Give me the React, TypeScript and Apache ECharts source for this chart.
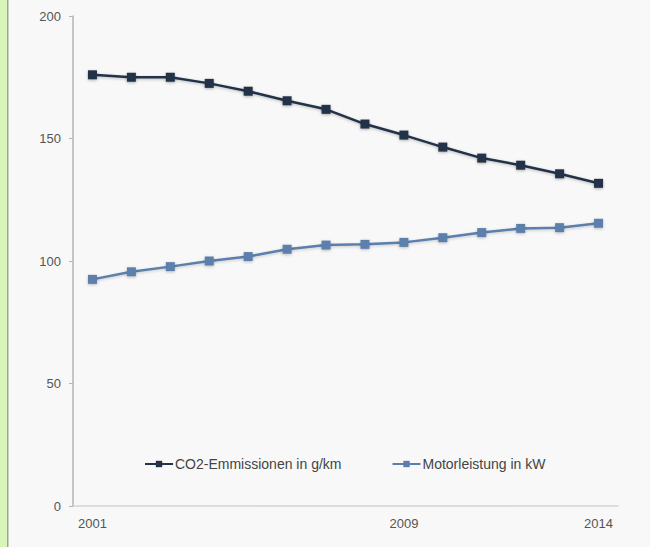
import React, { useEffect, useRef } from "react";
import * as echarts from "echarts";

const years = ["2001", "2002", "2003", "2004", "2005", "2006", "2007", "2008", "2009", "2010", "2011", "2012", "2013", "2014"];
const co2 = [176, 175, 175, 172.5, 169.3, 165.4, 161.9, 155.9, 151.4, 146.5, 142, 139.1, 135.6, 131.7];
const power = [92.5, 95.6, 97.7, 100, 101.8, 104.8, 106.5, 106.8, 107.6, 109.5, 111.6, 113.3, 113.6, 115.4];
const shownYears = ["2001", "2009", "2014"];
const seriesNames = ["CO2-Emmissionen in g/km", "Motorleistung in kW"];

export default function App() {
  const ref = useRef<HTMLDivElement>(null);
  useEffect(() => {
    document.body.style.margin = "0";
    const chart = echarts.init(ref.current!, null, { renderer: "svg" });
    const font = "Liberation Sans, Arial, sans-serif";
    chart.setOption({
      animation: false,
      backgroundColor: "#f8f8f8",
      textStyle: { fontFamily: font },
      graphic: [
        { type: "rect", left: 0, top: 0, shape: { width: 7, height: 547 }, style: { fill: "#d9f5b9" } },
        { type: "rect", left: 7, top: 0, shape: { width: 1.5, height: 547 }, style: { fill: "#9aa59a" } },
      ],
      grid: { left: 73, right: 32, top: 16, bottom: 41 },
      legend: {
        orient: "horizontal",
        top: 452,
        left: 139,
        itemGap: 50,
        itemWidth: 28,
        itemHeight: 8,
        textStyle: { fontSize: 14, color: "#444", fontFamily: font, padding: [0, 0, 0, -3] },
        data: seriesNames,
      },
      xAxis: {
        type: "category",
        data: years,
        boundaryGap: true,
        axisLine: { lineStyle: { color: "#d3d3d3", width: 1.5 } },
        axisTick: { show: false },
        axisLabel: {
          interval: (i: number, v: string) => shownYears.includes(v),
          color: "#555",
          fontSize: 13,
          margin: 11,
          fontFamily: font,
        },
        splitLine: { show: false },
      },
      yAxis: {
        type: "value",
        min: 0,
        max: 200,
        interval: 50,
        axisLine: { show: true, lineStyle: { color: "#b5b5b5", width: 1.5 } },
        axisTick: { show: true, length: 4, lineStyle: { color: "#b5b5b5" } },
        axisLabel: { color: "#555", fontSize: 13, margin: 12, fontFamily: font },
        splitLine: { show: false },
      },
      series: [
        {
          name: seriesNames[0],
          type: "line",
          data: co2,
          symbol: "rect",
          symbolSize: 9,
          color: "#243248",
          lineStyle: { width: 2.5, color: "#243248", shadowBlur: 3, shadowColor: "rgba(0,0,0,0.25)", shadowOffsetY: 1 },
          itemStyle: { color: "#243248", shadowBlur: 3, shadowColor: "rgba(0,0,0,0.3)", shadowOffsetY: 1 },
        },
        {
          name: seriesNames[1],
          type: "line",
          data: power,
          symbol: "rect",
          symbolSize: 9,
          color: "#5b7fac",
          lineStyle: { width: 2.5, color: "#5b7fac", shadowBlur: 3, shadowColor: "rgba(0,0,0,0.2)", shadowOffsetY: 1 },
          itemStyle: { color: "#5b7fac", shadowBlur: 3, shadowColor: "rgba(0,0,0,0.25)", shadowOffsetY: 1 },
        },
      ],
    });
    return () => chart.dispose();
  }, []);
  return <div ref={ref} style={{ width: 650, height: 547, position: "absolute", left: 0, top: 0 }} />;
}
